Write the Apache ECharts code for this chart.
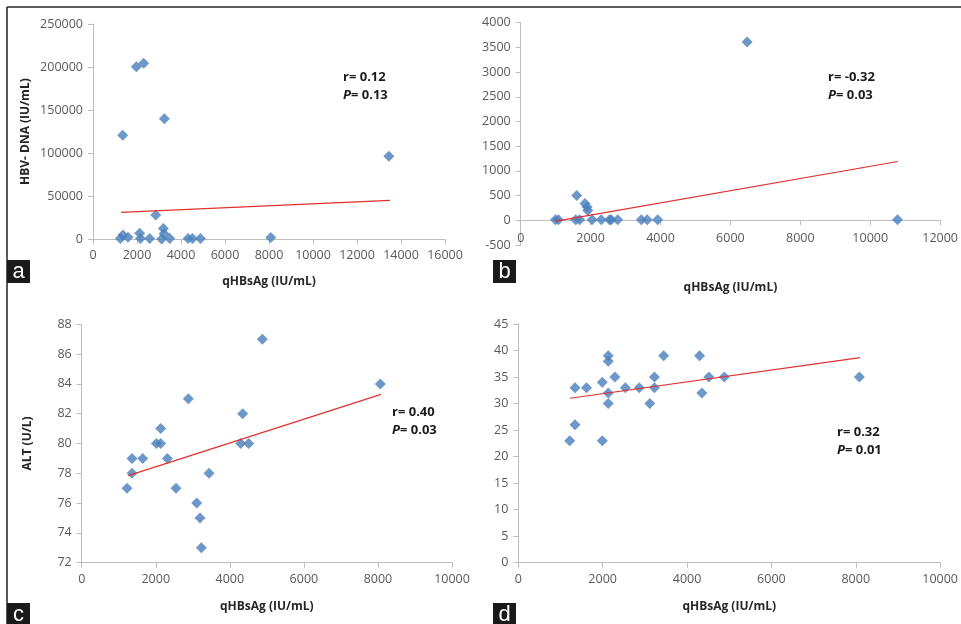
<!DOCTYPE html>
<html>
<head>
<meta charset="utf-8">
<style>
  html, body { margin: 0; padding: 0; background: #fff; }
  #chart { width: 961px; height: 624px; }
</style>
<script src="https://cdn.jsdelivr.net/npm/echarts@6/dist/echarts.min.js"></script>
</head>
<body>
<div id="chart"></div>
<script>
// panel a: qHBsAg vs HBV-DNA
var pointsA = [
  [1244, 800], [1365, 5000], [1592, 2300], [2123, 7000], [2153, 800],
  [1971, 200500], [2305, 204300], [1350, 120700], [2578, 800], [2851, 28300],
  [3245, 140100], [3200, 12400], [3230, 6500], [3120, 300], [3488, 800],
  [4322, 800], [4519, 800], [4883, 800], [8083, 2000], [13450, 96400]
]
var trendA = [[1270, 31300], [13500, 45300]]

// panel b
var pointsB = [
  [994, 10], [1078, 10], [1575, 10], [1688, 10], [1603, 500],
  [1838, 340], [1900, 270], [1920, 200], [2044, 10], [2306, 10],
  [2541, 10], [2588, 10], [2775, 10], [3450, 10], [3619, 10],
  [3919, 10], [6478, 3609], [10781, 10]
]
var trendB = [[1010, -15], [10790, 1190]]

// panel c: qHBsAg vs ALT
var pointsC = [
  [1224, 77], [1359, 79], [1359, 78], [1647, 79], [2016, 80],
  [2133, 80], [2133, 81], [2313, 79], [2547, 77], [2880, 83],
  [3105, 76], [3195, 75], [3231, 73], [3438, 78], [4293, 80],
  [4347, 82], [4509, 80], [4878, 87], [8064, 84]
]
var trendC = [[1258, 77.84], [8083, 83.3]]

// panel d
var pointsD = [
  [1219, 23], [1344, 33], [1344, 26], [1617, 33], [1992, 34],
  [1992, 23], [2133, 39], [2133, 38], [2133, 32], [2133, 30],
  [2289, 35], [2539, 33], [2867, 33], [3117, 30], [3227, 35],
  [3227, 33], [3445, 39], [4297, 39], [4352, 32], [4516, 35],
  [4883, 35], [8086, 35]
]
var trendD = [[1228, 31.0], [8102, 38.65]]

var panelLetters = ['a', 'b', 'c', 'd']
var statsR = ['r= 0.12', 'r= -0.32', 'r= 0.40', 'r= 0.32']
var statsP = ['0.13', '0.03', '0.03', '0.01']

var xName = 'qHBsAg (IU/mL)'
var yNames = ['HBV- DNA (IU/mL)', '', 'ALT (U/L)', '']

var chart = echarts.init(document.getElementById('chart'))

var axisColor = '#bdbdbd'
var nameStyle = { color: '#262626', fontSize: 12, fontWeight: 'bold', fontFamily: 'Open Sans' }

function labels(margin) {
  return {
    color: '#595959', fontSize: 12.5, fontFamily: 'Open Sans', margin: margin,
    formatter: function (v) { return String(v) }
  }
}

function xAxis(idx, max, gap, margin) {
  return {
    type: 'value', gridIndex: idx, min: 0, max: max, interval: 2000,
    name: xName, nameLocation: 'middle', nameGap: gap, nameTextStyle: nameStyle,
    axisLine: { show: true, onZero: true, lineStyle: { color: axisColor, width: 1 } },
    axisTick: { show: true, length: 5, lineStyle: { color: axisColor } },
    axisLabel: labels(margin),
    splitLine: { show: false }
  }
}

function yAxis(idx, min, max, interval, name, gap) {
  return {
    type: 'value', gridIndex: idx, min: min, max: max, interval: interval,
    name: name, nameLocation: 'middle', nameGap: gap, nameTextStyle: nameStyle,
    axisLine: { show: true, lineStyle: { color: axisColor, width: 1 } },
    axisTick: { show: true, length: 5, lineStyle: { color: axisColor } },
    axisLabel: labels(10),
    splitLine: { show: false }
  }
}

function scatter(idx, data) {
  return {
    type: 'scatter', xAxisIndex: idx, yAxisIndex: idx, data: data,
    symbol: 'diamond', symbolSize: 11,
    itemStyle: { color: '#4a7ebb' }
  }
}

function trend(idx, data) {
  return {
    type: 'line', xAxisIndex: idx, yAxisIndex: idx, data: data,
    symbol: 'none', z: 5,
    lineStyle: { color: '#e2302d', width: 1.2 }
  }
}

var statPos = [[343, 68], [828, 68], [392, 403], [837, 423]]
var letterPos = [[7, 260, 23], [493, 260, 23], [7, 603, 21], [493, 603, 21]]

var graphics = [
  { type: 'line', shape: { x1: 7, y1: 7, x2: 961, y2: 7 }, style: { stroke: '#222', lineWidth: 1.5 } },
  { type: 'line', shape: { x1: 7, y1: 7, x2: 7, y2: 624 }, style: { stroke: '#222', lineWidth: 1.5 } }
]
panelLetters.forEach(function (l, i) {
  var p = letterPos[i]
  graphics.push({
    type: 'rect', shape: { x: p[0], y: p[1], width: 23, height: p[2] },
    style: { fill: '#1a1a1a' }
  })
  graphics.push({
    type: 'text', x: p[0] + 11.5, y: p[1] + 11.5,
    style: {
      text: l, fill: '#fff', font: '22px "Liberation Sans", Arial, sans-serif',
      textAlign: 'center', textVerticalAlign: 'middle'
    }
  })
  graphics.push({
    type: 'text', x: statPos[i][0], y: statPos[i][1],
    style: {
      text: statsR[i] + '\n{i|P}= ' + statsP[i],
      fill: '#1a1a1a', font: 'bold 13px "Open Sans", sans-serif', lineHeight: 18,
      rich: { i: { fontStyle: 'italic', fontWeight: 'bold', fontSize: 13, fontFamily: 'Open Sans' } }
    }
  })
})

chart.setOption({
  animation: false,
  backgroundColor: '#fff',
  grid: [
    { left: 93, top: 24, width: 352, height: 215.3 },
    { left: 520.7, top: 22.7, width: 426.7, height: 222.3 },
    { left: 81.7, top: 324.3, width: 370.3, height: 238.4 },
    { left: 518.3, top: 324, width: 426.7, height: 238.7 }
  ],
  xAxis: [
    xAxis(0, 16000, 36, 10),
    xAxis(1, 12000, 37, -13),
    xAxis(2, 10000, 38, 10),
    xAxis(3, 10000, 38, 10)
  ],
  yAxis: [
    yAxis(0, 0, 250000, 50000, yNames[0], 61),
    yAxis(1, -500, 4000, 500, yNames[1], 40),
    yAxis(2, 72, 88, 2, yNames[2], 48),
    yAxis(3, 0, 45, 5, yNames[3], 40)
  ],
  series: [
    scatter(0, pointsA), trend(0, trendA),
    scatter(1, pointsB), trend(1, trendB),
    scatter(2, pointsC), trend(2, trendC),
    scatter(3, pointsD), trend(3, trendD)
  ],
  graphic: graphics
})
</script>
</body>
</html>
